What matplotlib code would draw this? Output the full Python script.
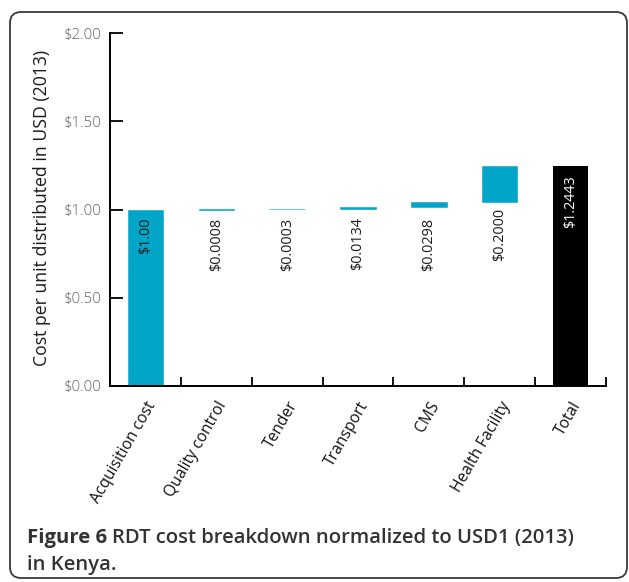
import matplotlib.pyplot as plt
from matplotlib.patches import FancyBboxPatch
import numpy as np

plt.rcParams['font.family'] = ['Open Sans', 'DejaVu Sans']

categories = ['Acquisition cost', 'Quality control', 'Tender', 'Transport',
              'CMS', 'Health Facility', 'Total']
costs = [1.00, 0.0008, 0.0003, 0.0134, 0.0298, 0.2000]
total = 1.2443
labels = ['$1.00', '$0.0008', '$0.0003', '$0.0134', '$0.0298', '$0.2000', '$1.2443']
yticks = [0, 0.5, 1.0, 1.5, 2.0]
yticklabels = ['$0.00', '$0.50', '$1.00', '$1.50', '$2.00']

blue = '#00A5C8'
W, H = 629, 582

fig = plt.figure(figsize=(W / 100, H / 100), dpi=100)
renderer = fig.canvas.get_renderer()


def width_px(s, size, **kw):
    t = fig.text(0, 0, s, fontsize=size, **kw)
    w = t.get_window_extent(renderer).width
    t.remove()
    return w


def fit(s, target, **kw):
    # font size so that s is about target pixels long
    return 10 * target / width_px(s, 10, **kw)


ax = fig.add_axes([110 / W, 1 - 386 / H, 496 / W, 353 / H])

# rounded frame round the whole figure
fig.patches.append(FancyBboxPatch((0.10, 0.04), 6.17, 5.66,
                                  boxstyle='round,pad=0,rounding_size=0.11',
                                  transform=fig.dpi_scale_trans, fill=False,
                                  edgecolor='#3a3a3a', linewidth=1.3))

x = np.arange(len(categories)) + 0.5
bottoms = np.concatenate([[0], np.cumsum(costs)[:-1]])
ax.bar(x[:-1], costs, bottom=bottoms, width=0.5, color=blue, edgecolor=blue, linewidth=0.4)
ax.bar(x[-1], total, width=0.5, color='black')

lab_size = fit('$1.00', 37)
for i, lab in enumerate(labels):
    if i == len(labels) - 1:
        y, c = 1.195, 'white'
    elif i == 5:
        y, c = bottoms[i] - 0.035, '#1a1a1a'
    else:
        y, c = 0.955, '#1a1a1a'
    ax.text(x[i], y, lab, rotation=90, ha='center', va='top', fontsize=lab_size, color=c)

ax.set_xlim(0, 7)
ax.set_ylim(0, 2)
ax.set_yticks(yticks)
ax.set_yticklabels(yticklabels, color='#666666', fontsize=fit('$1.00', 38, fontweight='light'),
                   fontweight='light')
ax.set_xticks(np.arange(0, 8))
ax.set_xticklabels([])
ax.set_xticks(x, minor=True)
ax.set_xticklabels(categories, minor=True, rotation=60, ha='right', va='top',
                   rotation_mode='anchor', fontsize=fit('Acquisition cost', 115), color='#111111')
ax.tick_params(axis='x', which='minor', length=0, pad=9)
ax.tick_params(axis='x', which='major', direction='in', length=6.5, width=1.3)
ax.tick_params(axis='y', direction='in', length=9, width=1.3, pad=6)
for s in ['top', 'right']:
    ax.spines[s].set_visible(False)
for s in ['left', 'bottom']:
    ax.spines[s].set_linewidth(1.4)

ylab = 'Cost per unit distributed in USD (2013)'
fig.text(42 / W, 1 - 208 / H, ylab, rotation=90, ha='center', va='center',
         fontsize=fit(ylab, 317), color='#1a1a1a')

# caption
head = 'Figure 6 '
rest = 'RDT cost breakdown normalized to USD1 (2013)'
cap_size = 10 * 549 / (width_px(head, 10, fontweight='bold') + width_px(rest, 10, fontweight='semibold'))
hx = width_px(head, cap_size, fontweight='bold')
fig.text(27 / W, 1 - 543 / H, head, fontsize=cap_size, fontweight='bold', color='#333333', va='baseline')
fig.text((27 + hx) / W, 1 - 543 / H, rest, fontsize=cap_size, fontweight='semibold',
         color='#333333', va='baseline')
fig.text(27 / W, 1 - 570 / H, 'in Kenya.', fontsize=cap_size, fontweight='semibold',
         color='#333333', va='baseline')

fig.savefig('out.png', dpi=100)
